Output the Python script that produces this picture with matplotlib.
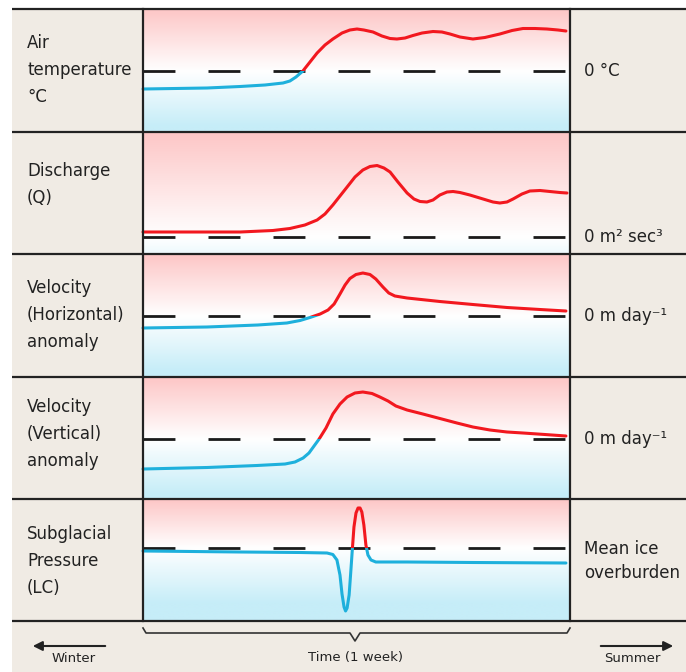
import numpy as np
import matplotlib
matplotlib.use("Agg")
import matplotlib.pyplot as plt
from matplotlib.patches import Rectangle, FancyArrowPatch

plt.rcParams['font.family'] = ['DejaVu Sans']
plt.rcParams['lines.scale_dashes'] = False

# ---- data (time in hours over one week, values = anomaly in arbitrary units) ----
air_t = [0, 12.6, 25.2, 38.2, 48.0, 55.1, 57.8, 60.2, 62.9, 65.7, 68.5, 71.6, 74.7, 78.3,
         81.4, 84.2, 86.9, 90.5, 94.0, 97.2, 99.9, 103.1, 106.2, 109.8, 114.1, 117.6,
         120.8, 124.7, 129.8, 134.5, 140.4, 145.2, 149.5, 154.2, 158.9, 163.3, 166.4]
air_v = [-18, -17.5, -17, -15.5, -14, -12, -10, -6, 0, 9, 18, 26, 32, 38, 41, 42, 41, 39,
         35, 32.5, 32, 33, 35.5, 38, 39.5, 39, 37, 34, 32, 33.5, 37, 40.5, 42.5, 42.5, 42,
         41, 40]

q_t = [0, 22.4, 38.2, 51.1, 57.8, 63.7, 68.5, 71.6, 74.7, 77.5, 80.3, 83.4, 86.5, 89.3,
       92.1, 94.8, 97.2, 100.3, 103.9, 106.6, 109.0, 111.7, 114.1, 116.8, 119.6, 122.0,
       124.7, 128.6, 133.8, 137.7, 140.4, 143.2, 145.6, 149.1, 152.2, 156.2, 160.1, 164.0,
       166.8]
q_v = [5, 5, 5, 6.5, 8.5, 12, 17, 23, 32, 41, 50, 60, 67, 70.5, 71.5, 69, 65, 55, 44, 38,
       35.5, 35, 37, 42, 45, 45.5, 44.5, 42, 38, 35, 34, 35, 38, 43, 46, 46.5, 45.5, 44.5, 44]

vh_t = [0, 25.2, 45.2, 56.6, 61.8, 65.7, 69.7, 72.8, 75.2, 77.5, 79.5, 81.4, 83.8, 86.5,
        89.3, 91.6, 94.4, 96.7, 99.1, 103.9, 116.8, 129.8, 143.2, 156.2, 166.4]
vh_v = [-12, -11, -9, -7, -4.5, -1.5, 2, 6, 12, 22, 31, 37.5, 41.5, 43, 41.5, 37, 29, 23,
        20, 18, 14.5, 11.5, 8.5, 6.5, 5]

vv_t = [0, 25.2, 44.8, 55.9, 59.8, 63.0, 65.3, 67.3, 69.3, 72.0, 74.7, 77.5, 80.3, 83.4,
        86.5, 90.1, 93.2, 96.4, 99.5, 103.9, 110.1, 116.8, 123.5, 129.8, 136.5, 143.2,
        149.5, 158.1, 166.4]
vv_v = [-30, -28.5, -26.5, -25, -23, -19, -14, -7, 0, 11, 25, 35, 42, 46, 47, 45.5, 42, 38,
        33, 29, 25, 20.5, 16, 12, 9, 7, 6, 4.5, 3]

p_t = [0, 38.2, 61.8, 72.4, 74.7, 76.3, 77.5, 78.3, 79.1, 79.7, 80.3, 81.1, 81.8, 82.4,
       83.0, 83.8, 84.6, 85.4, 86.1, 86.9, 87.7, 88.5, 89.7, 91.6, 103.9, 129.8, 166.4]
p_v = [-3, -4, -4.5, -5, -6.5, -12, -27, -46, -59, -63, -60, -47, -22, 0, 21, 35, 40, 40,
       36, 23, 3, -7, -12, -14, -14, -14.5, -15]

row_labels = [["Air", "temperature", "°C"],
              ["Discharge", "(Q)"],
              ["Velocity", "(Horizontal)", "anomaly"],
              ["Velocity", "(Vertical)", "anomaly"],
              ["Subglacial", "Pressure", "(LC)"]]
ref_labels = [["0 °C"],
              ["0 m² sec³"],
              ["0 m day⁻¹"],
              ["0 m day⁻¹"],
              ["Mean ice", "overburden"]]

series = [(air_t, air_v), (q_t, q_v), (vh_t, vh_v), (vv_t, vv_v), (p_t, p_v)]

# ---- layout (pixels) ----
W, H = 686, 672
row_edges = [9, 132, 254, 377, 499, 621]
zero_y = [71, 237, 316, 439, 548]
label_y0 = [43, 171, 288, 407, 534]
ref_y = [[71], [237], [316], [439], [549, 573]]
x0, x1 = 143, 570

beige = '#f0ebe4'
pink = np.array([253, 198, 198]) / 255
blue = np.array([198, 237, 248]) / 255
red_c = '#f2181f'
blue_c = '#1eb0dc'

fig = plt.figure(figsize=(W / 100, H / 100), dpi=100)

# background
bg = fig.add_axes([0, 0, 1, 1], zorder=0)
bg.set_xlim(0, W)
bg.set_ylim(H, 0)
bg.axis('off')
bg.add_patch(Rectangle((12, 9), W - 12, H - 9, facecolor=beige, edgecolor='none'))

for i, (t, v) in enumerate(series):
    top, bot = row_edges[i], row_edges[i + 1]
    ylo, yhi = zero_y[i] - bot, zero_y[i] - top
    ax = fig.add_axes([x0 / W, 1 - bot / H, (x1 - x0) / W, (bot - top) / H], zorder=1)
    ax.set_xlim(0, 168)
    ax.set_ylim(ylo, yhi)
    ax.axis('off')

    # pink above / blue below gradient
    ys = np.linspace(yhi, ylo, 300)
    up = np.clip(ys / yhi, 0, 1)[:, None]
    dn = np.clip(-ys / 55, 0, 1)[:, None]
    img = np.ones((300, 1, 3))
    img[:, 0, :] = 1 - up * (1 - pink) - dn * (1 - blue)
    ax.imshow(img, extent=(0, 168, ylo, yhi), aspect='auto', interpolation='bilinear')

    ax.axhline(0, color='#1a1a1a', lw=2.0, dashes=(23, 23.8), dash_capstyle='butt')

    above = Rectangle((-10, 0), 200, 500, transform=ax.transData)
    below = Rectangle((-10, -500), 200, 500, transform=ax.transData)
    lr, = ax.plot(t, v, color=red_c, lw=2.2, solid_capstyle='round', solid_joinstyle='round')
    lr.set_clip_path(above)
    lb, = ax.plot(t, v, color=blue_c, lw=2.2, solid_capstyle='round', solid_joinstyle='round')
    lb.set_clip_path(below)

# overlay: frame lines and texts
ov = fig.add_axes([0, 0, 1, 1], zorder=2)
ov.set_xlim(0, W)
ov.set_ylim(H, 0)
ov.axis('off')
ov.patch.set_alpha(0)

for y in row_edges:
    ov.plot([12, W], [y, y], color='#222222', lw=1.6, solid_capstyle='butt')
for x in (x0, x1):
    ov.plot([x, x], [row_edges[0], row_edges[-1]], color='#222222', lw=1.6)

for i, lines in enumerate(row_labels):
    for k, s in enumerate(lines):
        ov.text(27, label_y0[i] + 27 * k, s, fontsize=12, color='#222222', va='center', ha='left')
for i, lines in enumerate(ref_labels):
    for k, s in enumerate(lines):
        ov.text(584, ref_y[i][k], s, fontsize=12, color='#222222', va='center', ha='left')

# brace under the time axis
bx = [x0, x0 + 3, 350, 355, 360, x1 - 3, x1]
by = [628, 633, 633, 641, 633, 633, 628]
ov.plot(bx, by, color='#333333', lw=1.2, solid_joinstyle='round')
ov.text(355, 657, "Time (1 week)", fontsize=9.5, color='#222222', ha='center', va='center')

ov.add_patch(FancyArrowPatch((108, 646), (30, 646), arrowstyle='-|>', mutation_scale=14,
                             color='#222222', lw=1.5))
ov.add_patch(FancyArrowPatch((598, 646), (676, 646), arrowstyle='-|>', mutation_scale=14,
                             color='#222222', lw=1.5))
ov.text(74, 658, "Winter", fontsize=9.5, color='#222222', ha='center', va='center')
ov.text(632, 658, "Summer", fontsize=9.5, color='#222222', ha='center', va='center')

fig.savefig("out.png", dpi=100)
